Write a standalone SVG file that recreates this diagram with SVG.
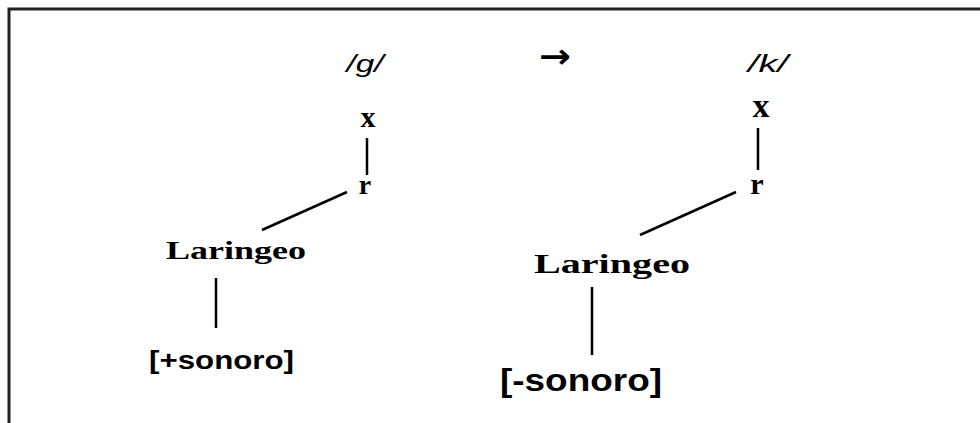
<svg xmlns="http://www.w3.org/2000/svg" width="980" height="423" viewBox="0 0 980 423">
<style>
.serif{font-family:"Liberation Serif","Times New Roman",serif;font-weight:bold;fill:#000}
.sans{font-family:"Liberation Sans",Arial,sans-serif;fill:#000}
.it{font-style:italic}
.ln{stroke:#000;stroke-width:2.5;fill:none}
</style>
<rect x="0" y="0" width="980" height="423" fill="#fff"/>
<path d="M9,423 V9 H980" stroke="#222" stroke-width="3" fill="none"/>
<g id="g-phoneme"><text class="sans it" x="365" y="72" font-size="24" text-anchor="middle" textLength="37" lengthAdjust="spacingAndGlyphs">/g/</text></g>
<g id="arrow"><text x="555" y="68" font-size="34" font-weight="bold" text-anchor="middle" textLength="32" lengthAdjust="spacingAndGlyphs" style="font-family:'DejaVu Sans',sans-serif">→</text></g>
<g id="k-phoneme"><text class="sans it" x="768" y="72" font-size="24" text-anchor="middle" textLength="40" lengthAdjust="spacingAndGlyphs">/k/</text></g>
<g id="x-left"><text class="serif" x="368" y="127" font-size="30" text-anchor="middle">x</text></g>
<g id="r-left"><text class="serif" x="365" y="194" font-size="28" text-anchor="middle">r</text></g>
<g id="laringeo-left"><text class="serif" x="166" y="259" font-size="25" textLength="140" lengthAdjust="spacingAndGlyphs">Laringeo</text></g>
<g id="sonoro-plus"><text class="sans" x="149" y="369" font-size="26" font-weight="bold" textLength="145" lengthAdjust="spacingAndGlyphs">[+sonoro]</text></g>
<g id="x-right"><text class="serif" x="761" y="117" font-size="34" text-anchor="middle">x</text></g>
<g id="r-right"><text class="serif" x="757" y="194" font-size="30" text-anchor="middle">r</text></g>
<g id="laringeo-right"><text class="serif" x="534" y="273" font-size="27" font-weight="normal" textLength="156" lengthAdjust="spacingAndGlyphs">Laringeo</text></g>
<g id="sonoro-minus"><text class="sans" x="500" y="391" font-size="32" font-weight="bold" textLength="162" lengthAdjust="spacingAndGlyphs">[-sonoro]</text></g>
<g id="connectors">
<line class="ln" x1="367" y1="138" x2="367" y2="175"/>
<line class="ln" x1="347" y1="192" x2="262" y2="230"/>
<line class="ln" x1="216" y1="278" x2="216" y2="328"/>
<line class="ln" x1="758" y1="128" x2="758" y2="170"/>
<line class="ln" x1="736" y1="192" x2="640" y2="235"/>
<line class="ln" x1="592" y1="287" x2="592" y2="355"/>
</g>
</svg>
